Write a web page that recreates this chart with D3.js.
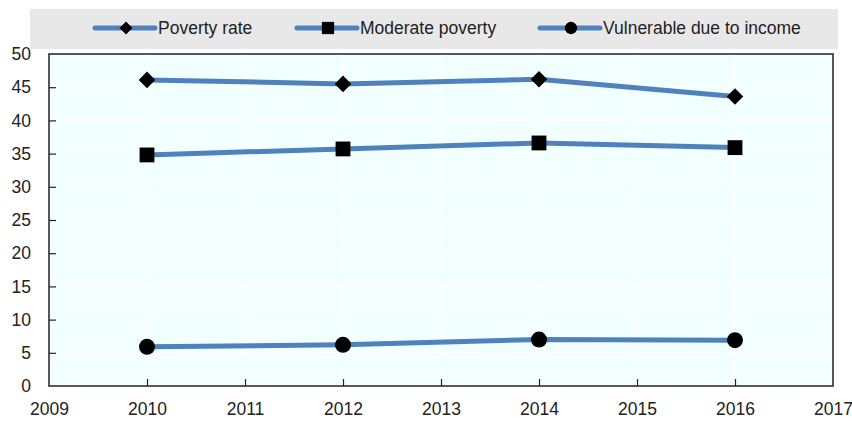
<!DOCTYPE html>
<html><head><meta charset="utf-8">
<script src="https://cdn.jsdelivr.net/npm/d3@7"></script>
<style>body{margin:0;background:#fff;font-family:"Liberation Sans",Arial,sans-serif;}</style>
</head><body><svg id="c" width="852" height="421"></svg>
<script>
const years = [2010, 2012, 2014, 2016];
const povertyRate = [46.1, 45.5, 46.2, 43.6];
const moderatePoverty = [34.8, 35.7, 36.6, 35.9];
const vulnerable = [5.9, 6.2, 7.0, 6.9];
const seriesNames = ["Poverty rate", "Moderate poverty", "Vulnerable due to income"];
const xTicks = [2009, 2010, 2011, 2012, 2013, 2014, 2015, 2016, 2017];
const yTicks = [0, 5, 10, 15, 20, 25, 30, 35, 40, 45, 50];

const svg = d3.select("#c");
const L = 49, R = 833, T = 54, B = 386;
const x = d3.scaleLinear().domain([2009, 2017]).range([L, R]);
const y = d3.scaleLinear().domain([0, 50]).range([B, T]);
const blue = "#4f81bd";
const FONT = "Liberation Sans, Arial, sans-serif";
const FS = 17.5;

// legend box
svg.append("rect").attr("x", 30).attr("y", 9).attr("width", 808).attr("height", 40).attr("fill", "#e8e8e8");

// plot bg
svg.append("rect").attr("x", L).attr("y", T).attr("width", R - L).attr("height", B - T).attr("fill", "#f2ffff");

// grid
svg.append("g").selectAll("line").data(yTicks.slice(1, -1)).join("line")
  .attr("x1", L).attr("x2", R).attr("y1", d => y(d)).attr("y2", d => y(d))
  .attr("stroke", "#ffffff").attr("stroke-width", 1.2);
svg.append("g").selectAll("line").data(xTicks.slice(1, -1)).join("line")
  .attr("y1", T).attr("y2", B).attr("x1", d => x(d)).attr("x2", d => x(d))
  .attr("stroke", "#ffffff").attr("stroke-width", 1.2);

// axes
const yAxis = d3.axisLeft(y).tickValues(yTicks).tickSize(-7).tickPadding(18).tickFormat(d3.format("d"));
const gy = svg.append("g").attr("transform", `translate(${L},0)`).call(yAxis);
gy.select(".domain").remove();
gy.selectAll(".tick line").attr("stroke", "#222").attr("stroke-width", 1.2);
gy.selectAll(".tick").filter(d => d === 0 || d === 50).select("line").remove();
gy.selectAll("text").attr("font-size", FS).attr("fill", "#222").attr("font-family", FONT);

const xAxis = d3.axisBottom(x).tickValues(xTicks).tickSize(-7).tickPadding(17).tickFormat(d3.format("d"));
const gx = svg.append("g").attr("transform", `translate(0,${B})`).call(xAxis);
gx.select(".domain").remove();
gx.selectAll(".tick line").attr("stroke", "#222").attr("stroke-width", 1.2);
gx.selectAll(".tick").filter(d => d === 2009 || d === 2017).select("line").remove();
gx.selectAll("text").attr("font-size", FS).attr("fill", "#222").attr("font-family", FONT);

// frame
svg.append("rect").attr("x", L).attr("y", T).attr("width", R - L).attr("height", B - T)
  .attr("fill", "none").attr("stroke", "#222").attr("stroke-width", 1.5);

const data = [povertyRate, moderatePoverty, vulnerable];
const symbols = [d3.symbolDiamond2, d3.symbolSquare, d3.symbolCircle];
const symSizes = [175, 220, 200];
const line = d3.line().x((d, i) => x(years[i])).y(d => y(d));

data.forEach((vals, k) => {
  svg.append("path").datum(vals).attr("d", line).attr("fill", "none")
    .attr("stroke", blue).attr("stroke-width", 5);
  svg.append("g").selectAll("path").data(vals).join("path")
    .attr("d", d3.symbol().type(symbols[k]).size(symSizes[k])())
    .attr("transform", (v, i) => `translate(${x(years[i])},${y(v)})`).attr("fill", "#000");
});

// legend
const legX = [95, 297, 540];
const legY = 28;
seriesNames.forEach((name, k) => {
  const g = svg.append("g");
  g.append("line").attr("x1", legX[k]).attr("x2", legX[k] + 60).attr("y1", legY).attr("y2", legY)
    .attr("stroke", blue).attr("stroke-width", 5).attr("stroke-linecap", "round");
  const s = [105, 150, 120][k];
  g.append("path").attr("d", d3.symbol().type(symbols[k]).size(s)())
    .attr("transform", `translate(${legX[k] + 31},${legY})`).attr("fill", "#000");
  g.append("text").attr("x", legX[k] + 63).attr("y", legY + 6).text(name)
    .attr("font-size", FS).attr("fill", "#222").attr("font-family", FONT);
});
</script></body></html>
